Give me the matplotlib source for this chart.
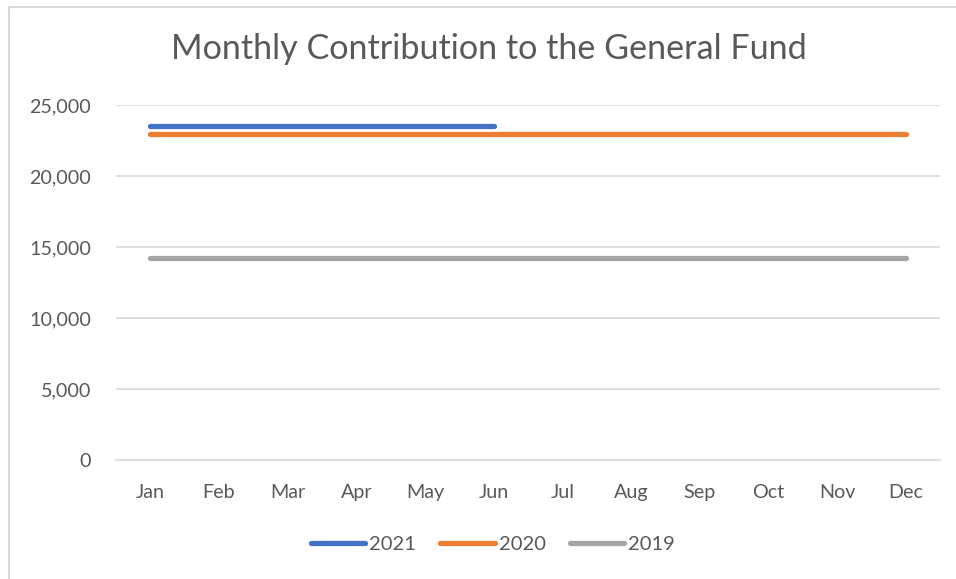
import matplotlib
matplotlib.use("Agg")
import matplotlib.pyplot as plt
from matplotlib.lines import Line2D
from matplotlib.ticker import FuncFormatter

# Dane
months = ["Jan", "Feb", "Mar", "Apr", "May", "Jun",
          "Jul", "Aug", "Sep", "Oct", "Nov", "Dec"]
y2021 = [23500, 23500, 23500, 23500, 23500, 23500]
y2020 = [22950] * 12
y2019 = [14200] * 12
series_labels = ["2021", "2020", "2019"]

plt.rcParams['font.family'] = ['Lato', 'DejaVu Sans']
text_color = "#595959"
grid_color = "#d9d9d9"

fig = plt.figure(figsize=(9.56, 5.79), dpi=100)
W, H = 956, 579
ax = fig.add_axes([116 / W, 1 - 460 / H, (940 - 116) / W, (460 - 105) / H])

x = list(range(len(months)))
ax.plot(x[:len(y2021)], y2021, color="#4472C4", lw=3.8, solid_capstyle="round", label=series_labels[0], zorder=4)
ax.plot(x, y2020, color="#ED7D31", lw=3.8, solid_capstyle="round", label=series_labels[1], zorder=3)
ax.plot(x, y2019, color="#A5A5A5", lw=3.8, solid_capstyle="round", label=series_labels[2], zorder=3)

ax.set_xlim(-0.5, 11.5)
ax.set_ylim(0, 25000)
ax.set_yticks(range(0, 25001, 5000))
ax.yaxis.set_major_formatter(FuncFormatter(lambda v, p: f"{int(v):,}"))
ax.set_xticks(x)
ax.set_xticklabels(months)
ax.grid(axis="y", color=grid_color, lw=1.2)
ax.set_axisbelow(True)
for s in ["top", "right", "left"]:
    ax.spines[s].set_visible(False)
ax.spines["bottom"].set_color(grid_color)
ax.spines["bottom"].set_linewidth(1.2)
ax.tick_params(length=0, labelsize=14.2, colors=text_color)
ax.tick_params(axis="x", pad=17)
ax.tick_params(axis="y", pad=18)

fig.text(489 / W, 1 - 49 / H, "Monthly Contribution to the General Fund",
         ha="center", va="center", fontsize=24.6, color=text_color)

handles = [Line2D([0], [0], color=c, lw=3.8, solid_capstyle="round")
           for c in ["#4472C4", "#ED7D31", "#A5A5A5"]]
fig.legend(handles, series_labels, loc="center", bbox_to_anchor=(493 / W, 1 - 544 / H),
           ncol=3, frameon=False, fontsize=14.5, labelcolor=text_color,
           handlelength=2.7, handletextpad=0.2, columnspacing=1.2)

# ramka wykresu (lewa i górna krawędź)
fig.add_artist(Line2D([8.5 / W, 8.5 / W], [0, 1 - 6.5 / H], color="#d9d9d9", lw=1.5))
fig.add_artist(Line2D([8.5 / W, 1], [1 - 6.5 / H, 1 - 6.5 / H], color="#d9d9d9", lw=1.5))

fig.savefig("out.png", dpi=100)
